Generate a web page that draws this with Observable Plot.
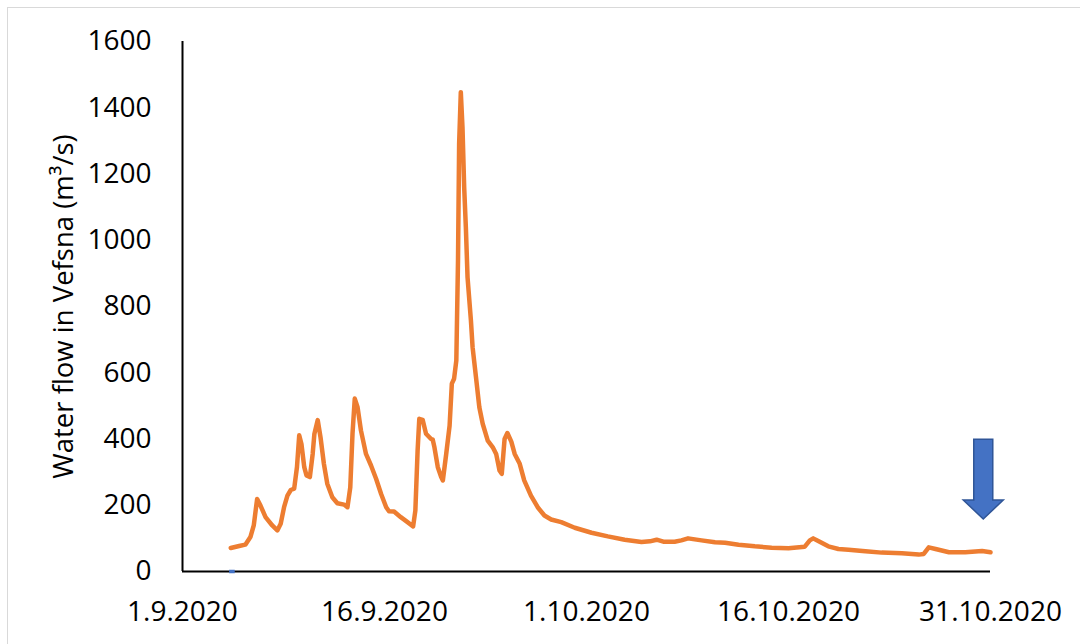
<!DOCTYPE html>
<html>
<head>
<meta charset="utf-8">
<script src="https://cdn.jsdelivr.net/npm/d3@7"></script>
<script src="https://cdn.jsdelivr.net/npm/@observablehq/plot@0.6"></script>
<style>
  html, body { margin: 0; padding: 0; background: #fff; }
  #wrap { position: relative; width: 1080px; height: 644px; overflow: hidden; }
  #frame { position: absolute; left: 7px; top: 7px; width: 1100px; height: 700px;
           border-top: 1.3px solid #d9d9d9; border-left: 1.3px solid #d9d9d9; pointer-events: none; }
  #chart { position: absolute; left: 0; top: 0; }
</style>
</head>
<body>
<div id="wrap">
  <div id="chart"></div>
  <div id="frame"></div>
</div>
<script>
// Hourly-ish readings of discharge in Vefsna, autumn 2020 (UTC timestamps, m³/s)
const flowTimes = [
  "2020-09-04T14", "2020-09-05T05", "2020-09-05T16", "2020-09-06T01", "2020-09-06T07",
  "2020-09-06T13", "2020-09-06T19", "2020-09-07T04", "2020-09-07T16", "2020-09-08T01",
  "2020-09-08T07", "2020-09-08T13", "2020-09-08T19", "2020-09-09T01", "2020-09-09T07",
  "2020-09-09T12", "2020-09-09T16", "2020-09-09T20", "2020-09-10T01", "2020-09-10T05",
  "2020-09-10T11", "2020-09-10T16", "2020-09-10T19", "2020-09-11T01", "2020-09-11T06",
  "2020-09-11T12", "2020-09-11T18", "2020-09-12T03", "2020-09-12T12", "2020-09-13T00",
  "2020-09-13T06", "2020-09-13T11", "2020-09-13T15", "2020-09-13T19", "2020-09-14T00",
  "2020-09-14T06", "2020-09-14T15", "2020-09-15T00", "2020-09-15T09", "2020-09-15T18",
  "2020-09-16T03", "2020-09-16T08", "2020-09-16T17", "2020-09-17T05", "2020-09-17T17",
  "2020-09-18T03", "2020-09-18T07", "2020-09-18T11", "2020-09-18T14", "2020-09-18T20",
  "2020-09-19T02", "2020-09-19T11", "2020-09-19T14", "2020-09-19T17", "2020-09-19T23",
  "2020-09-20T05", "2020-09-20T08", "2020-09-20T14", "2020-09-20T20", "2020-09-21T00",
  "2020-09-21T04", "2020-09-21T08", "2020-09-21T11", "2020-09-21T13", "2020-09-21T16",
  "2020-09-21T19", "2020-09-21T22", "2020-09-22T01", "2020-09-22T04", "2020-09-22T10",
  "2020-09-22T13", "2020-09-22T19", "2020-09-23T01", "2020-09-23T07", "2020-09-23T16",
  "2020-09-24T01", "2020-09-24T07", "2020-09-24T13", "2020-09-24T17", "2020-09-24T22",
  "2020-09-25T03", "2020-09-25T10", "2020-09-25T16", "2020-09-26T01", "2020-09-26T09",
  "2020-09-26T21", "2020-09-27T09", "2020-09-27T21", "2020-09-28T09", "2020-09-29T03",
  "2020-09-30T03", "2020-10-01T09", "2020-10-02T14", "2020-10-03T20", "2020-10-05T02",
  "2020-10-05T17", "2020-10-06T05", "2020-10-06T17", "2020-10-07T13", "2020-10-08T01",
  "2020-10-08T13", "2020-10-09T13", "2020-10-10T13", "2020-10-11T07", "2020-10-12T07",
  "2020-10-13T12", "2020-10-14T18", "2020-10-16T00", "2020-10-17T05", "2020-10-17T14",
  "2020-10-17T20", "2020-10-18T05", "2020-10-18T23", "2020-10-19T17", "2020-10-20T11",
  "2020-10-21T17", "2020-10-22T22", "2020-10-24T10", "2020-10-25T16", "2020-10-26T01",
  "2020-10-26T10", "2020-10-26T22", "2020-10-27T22", "2020-10-29T03", "2020-10-30T09",
  "2020-10-31T00"
];
const flowValues = [
  71, 77, 81, 104, 139,
  219, 199, 164, 139, 124,
  144, 194, 229, 246, 250,
  315, 411, 385, 315, 290,
  285, 355, 415, 457, 405,
  325, 265, 224, 206, 202,
  194, 254, 416, 522, 496,
  426, 355, 320, 280, 234,
  194, 182, 181, 164, 149,
  136, 184, 365, 461, 458,
  416, 400, 398, 375, 315,
  285, 275, 355, 440, 567,
  582, 637, 939, 1291, 1447,
  1341, 1160, 1039, 888, 758,
  677, 587, 496, 446, 395,
  375, 355, 305, 295, 400,
  418, 392, 355, 325, 275,
  229, 194, 169, 157, 149,
  132, 117, 106, 96, 89,
  91, 96, 90, 90, 94,
  100, 94, 88, 87, 81,
  76, 72, 70, 75, 94,
  100, 92, 76, 68, 66,
  61, 57, 55, 51, 53,
  73, 68, 58, 58, 62,
  58
];

// Single point of the second (blue) series, sitting on the zero line
const markerTimes = ["2020-09-04T17"];
const markerValues = [0];

// Downward arrow callout near the end of the record
const arrowTimes = ["2020-10-30T12"];
const arrowFrom = [398];
const arrowTo = [157];

// Axis ticks
const xTickDates = ["2020-09-01", "2020-09-16", "2020-10-01", "2020-10-16", "2020-10-31"];
const yTicks = [0, 200, 400, 600, 800, 1000, 1200, 1400, 1600];
const yTitle = "Water flow in Vefsna (m³/s)";

const parseTime = s => new Date(s.length === 10 ? s + "T00:00:00Z" : s + ":00:00Z");

const flow = flowTimes.map((t, i) => ({date: parseTime(t), value: flowValues[i]}));
const marker = markerTimes.map((t, i) => ({date: parseTime(t), value: markerValues[i]}));
const arrows = arrowTimes.map((t, i) => ({date: parseTime(t), from: arrowFrom[i], to: arrowTo[i]}));
const xTicks = xTickDates.map(parseTime);
const xStart = xTicks[0];
const xEnd = xTicks[xTicks.length - 1];

const fmtDate = d => `${d.getUTCDate()}.${d.getUTCMonth() + 1}.${d.getUTCFullYear()}`;

const ORANGE = "#ED7D31";
const BLUE = "#4472C4";
const BLUE_EDGE = "#2F5597";
const FONT = "'Open Sans', 'Liberation Sans', sans-serif";

// Block arrow drawn in data space: shaft from `from` down to the head, head ending at `to`
function blockArrow(index, scales) {
  const g = d3.create("svg:g");
  for (const a of arrows) {
    const cx = scales.x(a.date);
    const yTop = scales.y(a.from);
    const yTip = scales.y(a.to);
    const shaftHalf = 9.5, headHalf = 20, headLen = 19;
    const yBase = yTip - headLen;
    const pts = [
      [cx - shaftHalf, yTop], [cx + shaftHalf, yTop], [cx + shaftHalf, yBase],
      [cx + headHalf, yBase], [cx, yTip], [cx - headHalf, yBase], [cx - shaftHalf, yBase]
    ];
    g.append("polygon")
      .attr("points", pts.map(p => p.join(",")).join(" "))
      .attr("fill", BLUE)
      .attr("stroke", BLUE_EDGE)
      .attr("stroke-width", 1.5)
      .attr("stroke-linejoin", "miter");
  }
  return g.node();
}

const chart = Plot.plot({
  width: 1080,
  height: 644,
  marginLeft: 182,
  marginRight: 90,
  marginTop: 41,
  marginBottom: 73,
  style: {fontFamily: FONT, fontSize: "28px", color: "#000", background: "transparent", overflow: "visible"},
  x: {
    type: "utc",
    domain: [xStart, xEnd],
    ticks: xTicks,
    tickFormat: fmtDate,
    tickSize: 0,
    tickPadding: 30,
    label: null
  },
  y: {
    domain: [0, 1600],
    ticks: yTicks,
    tickFormat: d => String(d),
    tickSize: 0,
    tickPadding: 31,
    label: null
  },
  marks: [
    Plot.text([yTitle], {
      text: d => d,
      frameAnchor: "left",
      textAnchor: "middle",
      rotate: -90,
      dx: -118,
      lineAnchor: "middle",
      fontSize: 27.5,
      fill: "#000"
    }),
    Plot.line(flow, {
      x: "date", y: "value",
      stroke: ORANGE, strokeWidth: 4.5,
      strokeLinejoin: "round", strokeLinecap: "round"
    }),
    Plot.ruleX([xStart], {stroke: "#000", strokeWidth: 2}),
    Plot.ruleY([0], {stroke: "#000", strokeWidth: 2}),
    Plot.ruleY(marker, {
      y: "value",
      x1: d => new Date(+d.date - 5 * 3600e3),
      x2: d => new Date(+d.date + 5 * 3600e3),
      stroke: BLUE, strokeWidth: 3.5
    }),
    blockArrow
  ]
});

document.getElementById("chart").appendChild(chart);
</script>
</body>
</html>
